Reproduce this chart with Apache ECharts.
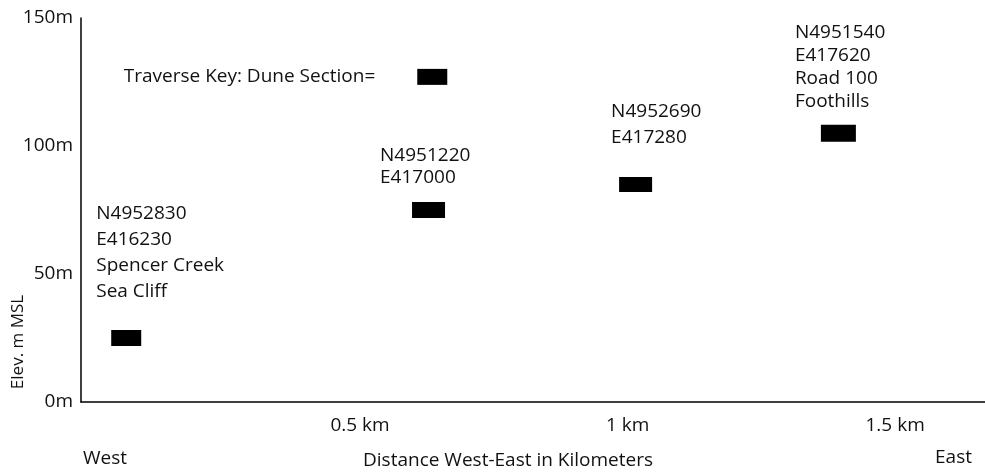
<!DOCTYPE html>
<html>
<head>
<meta charset="utf-8">
<script src="https://cdn.jsdelivr.net/npm/echarts@6/dist/echarts.min.js"></script>
<style>
  html, body { margin: 0; padding: 0; background: #fff; }
  #chart { width: 985px; height: 475px; }
</style>
</head>
<body>
<div id="chart"></div>
<script>
// Dune sections along the west-east traverse
const stationLabels = [
  'N4952830\nE416230\nSpencer Creek\nSea Cliff',
  'N4951220\nE417000',
  'N4952690\nE417280',
  'N4951540\nE417620\nRoad 100\nFoothills'
];
const distanceKm = [0.063, 0.628, 1.015, 1.394];
const elevationM = [25, 75, 85, 105];

// Key marker
const keyText = 'Traverse Key: Dune Section=';
const keyPoint = [0.635, 127];

// Axis ticks
const yTicks = [0, 50, 100, 150];
const xTicks = [0.5, 1, 1.5];

// Marker sizes and label placement (drawing style only)
const markSizes = [[30, 16], [33, 16], [33, 15], [35, 17]];
const labelPlacement = [
  { position: [-15, -129], lineHeight: 26 },
  { position: [-32, -57], lineHeight: 22 },
  { position: [-8, -78], lineHeight: 26 },
  { position: [-26, -104], lineHeight: 23 }
];

const FONT = '"Open Sans", "Noto Sans", sans-serif';
const INK = '#111';

const stationData = distanceKm.map((d, i) => ({
  value: [d, elevationM[i]],
  symbolSize: markSizes[i],
  label: {
    show: true,
    formatter: stationLabels[i],
    position: labelPlacement[i].position,
    align: 'left',
    verticalAlign: 'top',
    lineHeight: labelPlacement[i].lineHeight,
    fontFamily: FONT,
    fontSize: 19,
    color: INK
  }
}));

const chart = echarts.init(document.getElementById('chart'), null, { renderer: 'canvas' });

chart.setOption({
  animation: false,
  backgroundColor: '#fff',
  grid: { left: 81, right: 0, top: 18, bottom: 73 },
  xAxis: {
    type: 'value',
    min: -0.0215,
    max: 1.668,
    splitLine: { show: false },
    axisTick: { show: false },
    axisLine: { show: true, onZero: false, lineStyle: { color: '#000', width: 1.5 } },
    axisLabel: {
      customValues: xTicks,
      formatter: v => v + ' km',
      margin: 14,
      fontFamily: FONT,
      fontSize: 19,
      color: INK
    }
  },
  yAxis: {
    type: 'value',
    min: yTicks[0],
    max: yTicks[yTicks.length - 1],
    interval: 50,
    splitLine: { show: false },
    axisTick: { show: false },
    axisLine: { show: true, onZero: false, lineStyle: { color: '#000', width: 1.5 } },
    axisLabel: {
      formatter: '{value}m',
      margin: 8,
      fontFamily: FONT,
      fontSize: 19,
      color: INK
    }
  },
  graphic: [
    {
      type: 'text',
      x: 18, y: 342,
      rotation: Math.PI / 2,
      style: {
        text: 'Elev. m MSL',
        fontFamily: FONT, fontSize: 17, fill: INK,
        align: 'center', verticalAlign: 'middle'
      }
    },
    {
      type: 'text', x: 83, y: 459,
      style: { text: 'West', fontFamily: FONT, fontSize: 19, fill: INK, align: 'left', verticalAlign: 'middle' }
    },
    {
      type: 'text', x: 508, y: 461,
      style: { text: 'Distance West-East in Kilometers', fontFamily: FONT, fontSize: 19, fill: INK, align: 'center', verticalAlign: 'middle' }
    },
    {
      type: 'text', x: 972, y: 458,
      style: { text: 'East', fontFamily: FONT, fontSize: 19, fill: INK, align: 'right', verticalAlign: 'middle' }
    }
  ],
  series: [
    {
      name: 'Dune Section',
      type: 'scatter',
      symbol: 'rect',
      itemStyle: { color: '#000', opacity: 1 },
      data: stationData
    },
    {
      name: 'Key',
      type: 'scatter',
      symbol: 'rect',
      symbolSize: [30, 16],
      itemStyle: { color: '#000', opacity: 1 },
      label: {
        show: true,
        position: 'left',
        distance: 42,
        formatter: keyText,
        fontFamily: FONT,
        fontSize: 19,
        color: INK
      },
      data: [keyPoint]
    }
  ]
});
</script>
</body>
</html>
